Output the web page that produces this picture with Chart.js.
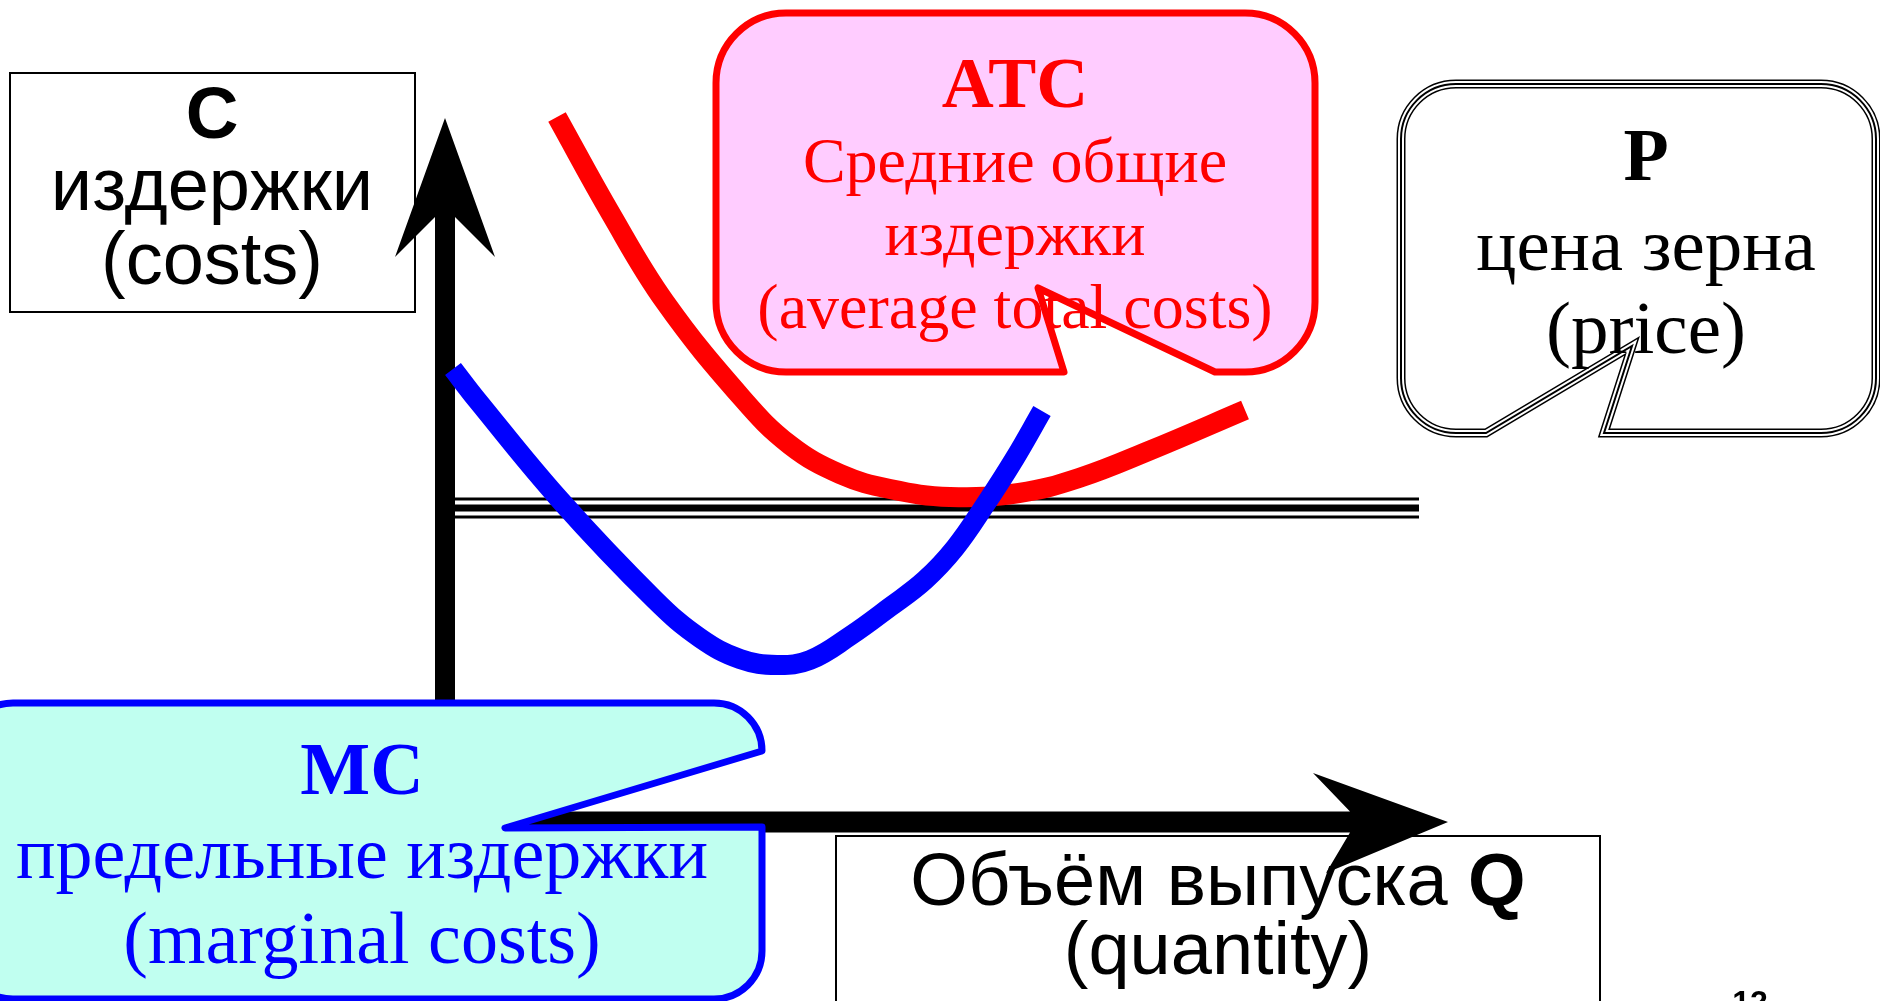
<!DOCTYPE html>
<html lang="ru">
<head>
<meta charset="utf-8">
<title>MC, ATC и цена</title>
<script src="https://cdn.jsdelivr.net/npm/chart.js@4.4.1/dist/chart.umd.min.js"></script>
<style>
  html, body { margin: 0; padding: 0; background: #fff; overflow: hidden; }
  canvas { display: block; }
</style>
</head>
<body>
<canvas id="js-chart" width="1880" height="1001"></canvas>
<script>
"use strict";
{
  // данные (Q - объём, C - издержки), 1 единица = 10px
  const MC_Q = [0.8, 3.2, 11.5, 21.0, 25.5, 29.5, 33.2, 36.5, 40.5, 44.5, 48.0, 51.0, 54.0, 57.0, 59.7];
  const MC_C = [45.3, 42.2, 32.2, 22.2, 18.4, 16.3, 15.7, 16.2, 18.6, 21.5, 24.2, 27.4, 31.7, 36.4, 41.1];

  const ATC_Q = [11.2, 16.6, 22.0, 29.7, 34.5, 39.5, 44.5, 50.5, 57.4, 63.4, 70.6, 80.0];
  const ATC_C = [70.5, 60.8, 52.0, 42.4, 37.7, 34.8, 33.3, 32.5, 32.9, 34.4, 37.2, 41.2];

  const PRICE_Q = [1.0, 97.4];
  const PRICE_C = [31.4, 31.4];

  // концы осей
  const Q_MAX = 100.3;
  const C_MAX = 70.4;

  const toPoints = (qs, cs) => qs.map((q, i) => ({ x: q, y: cs[i] }));

  const SERIF = '"Liberation Serif", "Times New Roman", serif';
  const SANS = '"Liberation Sans", Arial, sans-serif';

  function text(ctx, str, x, y, font, color) {
    ctx.font = font;
    ctx.fillStyle = color;
    ctx.textAlign = "center";
    ctx.textBaseline = "alphabetic";
    ctx.fillText(str, x, y);
  }

  function box(ctx, x0, y0, x1, y1) {
    ctx.fillStyle = "#ffffff";
    ctx.fillRect(x0, y0, x1 - x0, y1 - y0);
    ctx.strokeStyle = "#000000";
    ctx.lineWidth = 2;
    ctx.strokeRect(x0, y0, x1 - x0, y1 - y0);
  }

  const diagramPlugin = {
    id: "diagram",
    beforeDatasetsDraw(chart) {
      const ctx = chart.ctx;
      const sx = chart.scales.x;
      const sy = chart.scales.y;
      const ox = sx.getPixelForValue(0);
      const oy = sy.getPixelForValue(0);
      const yTip = sy.getPixelForValue(C_MAX);
      const xTip = sx.getPixelForValue(Q_MAX);
      ctx.save();

      // C box
      box(ctx, 10, 73, 415, 312);
      text(ctx, "C", 212, 138, "bold 73px " + SANS, "#000");
      text(ctx, "издержки", 212, 210, "74px " + SANS, "#000");
      text(ctx, "(costs)", 212, 284, "74px " + SANS, "#000");

      // Q box
      box(ctx, 836, 836, 1600, 1040);
      ctx.font = "74px " + SANS;
      const w1 = ctx.measureText("Объём выпуска ").width;
      ctx.font = "bold 74px " + SANS;
      const w2 = ctx.measureText("Q").width;
      const start = 1218 - (w1 + w2) / 2;
      ctx.fillStyle = "#000";
      ctx.textAlign = "left";
      ctx.font = "74px " + SANS;
      ctx.fillText("Объём выпуска ", start, 905);
      ctx.font = "bold 74px " + SANS;
      ctx.fillText("Q", start + w1, 905);
      text(ctx, "(quantity)", 1218, 974, "74px " + SANS, "#000");

      // ось C
      ctx.fillStyle = "#000";
      ctx.beginPath();
      ctx.moveTo(ox, yTip);
      ctx.lineTo(ox + 50, yTip + 139);
      ctx.lineTo(ox + 10, yTip + 99);
      ctx.lineTo(ox + 10, oy);
      ctx.lineTo(ox - 10, oy);
      ctx.lineTo(ox - 10, yTip + 99);
      ctx.lineTo(ox - 50, yTip + 139);
      ctx.closePath();
      ctx.fill();

      // ось Q
      ctx.beginPath();
      ctx.moveTo(xTip, oy);
      ctx.lineTo(xTip - 135, oy - 49);
      ctx.lineTo(xTip - 98, oy - 10.5);
      ctx.lineTo(ox - 10, oy - 10.5);
      ctx.lineTo(ox - 10, oy + 10.5);
      ctx.lineTo(xTip - 98, oy + 10.5);
      ctx.lineTo(xTip - 122, oy + 51);
      ctx.closePath();
      ctx.fill();

      // MC callout
      {
        const x0 = -35, y0 = 703, x1 = 762, y1 = 999, r = 48;
        ctx.beginPath();
        ctx.moveTo(x0 + r, y0);
        ctx.lineTo(x1 - r, y0);
        ctx.arcTo(x1, y0, x1, y0 + r, r);
        ctx.lineTo(505, 828);
        ctx.lineTo(x1, 827);
        ctx.lineTo(x1, y1 - r);
        ctx.arcTo(x1, y1, x1 - r, y1, r);
        ctx.lineTo(x0 + r, y1);
        ctx.arcTo(x0, y1, x0, y1 - r, r);
        ctx.lineTo(x0, y0 + r);
        ctx.arcTo(x0, y0, x0 + r, y0, r);
        ctx.closePath();
        ctx.fillStyle = "#c0fff0";
        ctx.fill();
        ctx.lineWidth = 7;
        ctx.lineJoin = "round";
        ctx.strokeStyle = "#0000ff";
        ctx.stroke();
        text(ctx, "MC", 362, 794, "bold 74px " + SERIF, "#0000ff");
        text(ctx, "предельные издержки", 362, 878, "74px " + SERIF, "#0000ff");
        text(ctx, "(marginal costs)", 362, 963, "74px " + SERIF, "#0000ff");
      }
      ctx.restore();
    },
    afterDatasetsDraw(chart) {
      const ctx = chart.ctx;
      ctx.save();

      // ATC callout
      {
        const x0 = 716, y0 = 13, x1 = 1315, y1 = 372, r = 70;
        ctx.beginPath();
        ctx.moveTo(x0 + r, y0);
        ctx.lineTo(x1 - r, y0);
        ctx.arcTo(x1, y0, x1, y0 + r, r);
        ctx.lineTo(x1, y1 - r);
        ctx.arcTo(x1, y1, x1 - r, y1, r);
        ctx.lineTo(1215, y1);
        ctx.lineTo(1038, 288);
        ctx.lineTo(1064, y1);
        ctx.lineTo(x0 + r, y1);
        ctx.arcTo(x0, y1, x0, y1 - r, r);
        ctx.lineTo(x0, y0 + r);
        ctx.arcTo(x0, y0, x0 + r, y0, r);
        ctx.closePath();
        ctx.fillStyle = "#ffccff";
        ctx.fill();
        ctx.lineWidth = 7;
        ctx.lineJoin = "round";
        ctx.strokeStyle = "#ff0000";
        ctx.stroke();
        text(ctx, "ATC", 1015, 107, "bold 72px " + SERIF, "#ff0000");
        text(ctx, "Средние общие", 1015, 182, "64px " + SERIF, "#ff0000");
        text(ctx, "издержки", 1015, 255, "64px " + SERIF, "#ff0000");
        text(ctx, "(average total costs)", 1015, 328, "64px " + SERIF, "#ff0000");
      }

      // P callout (тройная рамка)
      {
        const x0 = 1401, y0 = 84, x1 = 1876, y1 = 433, r = 55;
        ctx.beginPath();
        ctx.moveTo(x0 + r, y0);
        ctx.lineTo(x1 - r, y0);
        ctx.arcTo(x1, y0, x1, y0 + r, r);
        ctx.lineTo(x1, y1 - r);
        ctx.arcTo(x1, y1, x1 - r, y1, r);
        ctx.lineTo(1604, y1);
        ctx.lineTo(1632, 346);
        ctx.lineTo(1486, y1);
        ctx.lineTo(x0 + r, y1);
        ctx.arcTo(x0, y1, x0, y1 - r, r);
        ctx.lineTo(x0, y0 + r);
        ctx.arcTo(x0, y0, x0 + r, y0, r);
        ctx.closePath();
        ctx.fillStyle = "#ffffff";
        ctx.fill();
        ctx.lineJoin = "miter";
        ctx.miterLimit = 6;
        ctx.strokeStyle = "#000";
        ctx.lineWidth = 9;
        ctx.stroke();
        ctx.strokeStyle = "#fff";
        ctx.lineWidth = 6;
        ctx.stroke();
        ctx.strokeStyle = "#000";
        ctx.lineWidth = 2;
        ctx.stroke();
        text(ctx, "P", 1646, 180, "bold 74px " + SERIF, "#000");
        text(ctx, "цена зерна", 1646, 270, "75px " + SERIF, "#000");
        text(ctx, "(price)", 1646, 353, "75px " + SERIF, "#000");
      }

      // номер слайда
      text(ctx, "12", 1750, 1013, "bold 32px " + SANS, "#000");
      ctx.restore();
    },
  };

  const ctx = document.getElementById("js-chart").getContext("2d");
  new Chart(ctx, {
    type: "scatter",
    data: {
      datasets: [
        {
          label: "MC",
          data: toPoints(MC_Q, MC_C),
          showLine: true,
          borderColor: "#0000ff",
          borderWidth: 20,
          tension: 0.4,
          pointRadius: 0,
          order: 0,
        },
        {
          label: "ATC",
          data: toPoints(ATC_Q, ATC_C),
          showLine: true,
          borderColor: "#ff0000",
          borderWidth: 20,
          tension: 0.4,
          pointRadius: 0,
          order: 1,
        },
        {
          label: "P",
          data: toPoints(PRICE_Q, PRICE_C),
          showLine: true,
          borderColor: "#000000",
          borderWidth: 7,
          pointRadius: 0,
          order: 2,
        },
        {
          label: "P gap",
          data: toPoints(PRICE_Q, PRICE_C),
          showLine: true,
          borderColor: "#ffffff",
          borderWidth: 15,
          pointRadius: 0,
          order: 3,
        },
        {
          label: "P outer",
          data: toPoints(PRICE_Q, PRICE_C),
          showLine: true,
          borderColor: "#000000",
          borderWidth: 21,
          pointRadius: 0,
          order: 4,
        },
      ],
    },
    options: {
      responsive: false,
      animation: false,
      layout: { padding: 0 },
      scales: {
        x: { type: "linear", min: -44.5, max: 143.5, display: false },
        y: { type: "linear", min: -17.9, max: 82.2, display: false },
      },
      plugins: {
        legend: { display: false },
        tooltip: { enabled: false },
      },
    },
    plugins: [diagramPlugin],
  });
}
</script>
</body>
</html>
